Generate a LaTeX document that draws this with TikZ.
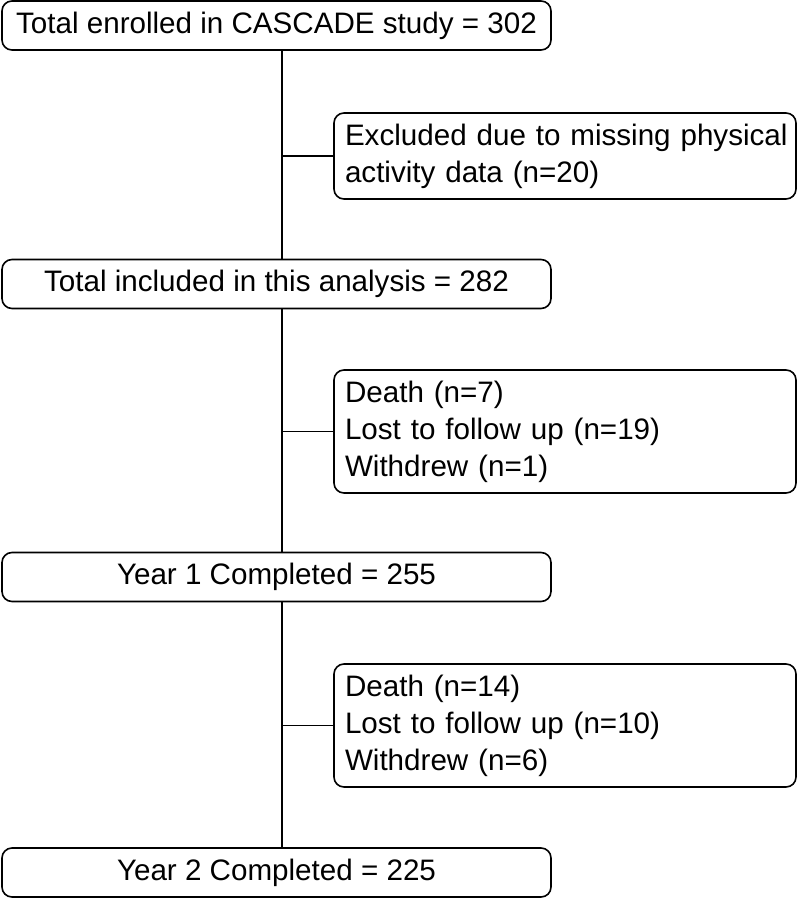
\documentclass[tikz,border=0pt]{standalone}
\usepackage{fontspec}
\setmainfont{Liberation Sans}
\usetikzlibrary{positioning}

\tikzset{
  mainbox/.style={draw, rounded corners=5pt, line width=0.8pt, minimum width=274.5pt, minimum height=24.5pt, inner sep=0pt},
  sidebox/.style={draw, rounded corners=5pt, line width=0.8pt, text width=220pt, align=left, inner xsep=5.5pt, inner ysep=0pt},
  link/.style={line width=0.8pt},
}

\begin{document}
\begin{tikzpicture}[x=0.5pt,y=-0.5pt,every node/.style={font=\fontsize{14.8}{18.5}\selectfont}]
\useasboundingbox (0,0) rectangle (798,899);

\node[mainbox] (N1) at (276.5,25.5) {Total enrolled in CASCADE study = 302};
\node[sidebox,minimum height=43pt] (N2) at (565,156) {\mbox{Excluded due to missing physical}\\activity data (n=20)};
\node[mainbox] (N3) at (276.5,284) {Total included in this analysis = 282};
\node[sidebox,minimum height=61.5pt] (N4) at (565,431.5) {Death (n=7)\\Lost to follow up (n=19)\\Withdrew (n=1)};
\node[mainbox] (N5) at (276.5,577) {Year 1 Completed = 255};
\node[sidebox,minimum height=61.5pt] (N6) at (565,725.5) {Death (n=14)\\Lost to follow up (n=10)\\Withdrew (n=6)};
\node[mainbox] (N7) at (276.5,872.5) {Year 2 Completed = 225};

%spine
\coordinate (S) at (282,0);

\draw[link] (N1.south -| S) -- (N3.north -| S);
\draw[link] (N3.south -| S) -- (N5.north -| S);
\draw[link] (N5.south -| S) -- (N7.north -| S);

\draw[link] (N2.west) -- (N2.west -| S);
\draw[link] (N4.west) -- (N4.west -| S);
\draw[link] (N6.west) -- (N6.west -| S);

\end{tikzpicture}
\end{document}
